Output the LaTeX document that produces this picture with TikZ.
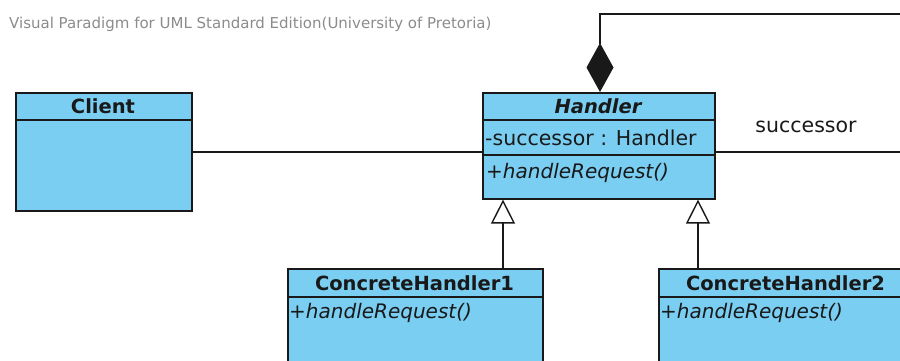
\documentclass[tikz,border=0pt]{standalone}
\usepackage{fontspec}
\setmainfont{DejaVu Sans}
\usetikzlibrary{arrows.meta}
\definecolor{umlblue}{RGB}{122,206,242}
\definecolor{umlline}{RGB}{25,25,25}
\definecolor{wmgray}{RGB}{140,140,140}
\tikzset{
  umlbox/.style={draw=umlline, fill=umlblue, line width=1.6pt, inner sep=0pt, anchor=north west},
  divider/.style={draw=umlline, line width=1.6pt},
  clsname/.style={font=\fontsize{19.5}{22}\selectfont\bfseries, text=umlline, inner sep=0pt},
  member/.style={font=\fontsize{20.5}{22}\selectfont, text=umlline, inner sep=0pt, anchor=west},
  conn/.style={draw=umlline, line width=1.4pt},
  gen/.style={conn, -{Triangle[open, length=24pt, width=24pt, line width=1.4pt, fill=white]}},
  comp/.style={conn, -{Diamond[length=49pt, width=27pt]}},
}
\begin{document}
\begin{tikzpicture}[x=1pt, y=-1pt]
\useasboundingbox (0,0) rectangle (900,360);
\clip (0,0) rectangle (900,360);
\fill[white] (0,0) rectangle (900,360);

% watermark
\node[anchor=west, inner sep=0pt, text=wmgray, font=\fontsize{15}{16}\selectfont] (wm) at (9,24) {Visual Paradigm for UML Standard Edition(University of Pretoria)};

% Client
\node[umlbox, minimum width=176pt, minimum height=118pt] (client) at (15,92) {};
\draw[divider] (15,120) -- (191,120);
\node[clsname] (clientname) at (103,106) {Client};

% Handler
\node[umlbox, minimum width=232pt, minimum height=106pt] (h) at (482,92) {};
\draw[divider] (482,120) -- (714,120);
\draw[divider] (482,155) -- (714,155);
\node[clsname, font=\fontsize{19.5}{22}\selectfont\bfseries\itshape] (hname) at (598,106) {Handler};
\node[member] (hattr) at (485,137.5) {-successor : Handler};
\node[member, font=\fontsize{20}{22}\selectfont\itshape] (hop) at (486,172.5) {+handleRequest()};

% ConcreteHandler1
\node[umlbox, minimum width=255pt, minimum height=120pt] (c1) at (287,268) {};
\draw[divider] (287,297) -- (542,297);
\node[clsname] (c1name) at (414.5,283) {ConcreteHandler1};
\node[member, font=\fontsize{20}{22}\selectfont\itshape] (c1op) at (289,313) {+handleRequest()};

% ConcreteHandler2
\node[umlbox, minimum width=255pt, minimum height=120pt] (c2) at (658,268) {};
\draw[divider] (658,297) -- (913,297);
\node[clsname] (c2name) at (785.5,283) {ConcreteHandler2};
\node[member, font=\fontsize{20}{22}\selectfont\itshape] (c2op) at (660,313) {+handleRequest()};

% connectors
\coordinate (yl) at (0,152);
\coordinate (g1) at (503,0);
\coordinate (g2) at (698,0);
\coordinate (topR) at (910,14);
\coordinate (rightEnd) at (910,152);
\coordinate (dtop) at (600,14);

\draw[conn] (client.east |- yl) -- (h.west |- yl);
\draw[conn] (h.east |- yl) -- (rightEnd);
\node[inner sep=0pt, font=\fontsize{20.5}{22}\selectfont, text=umlline] (succ) at (806,127) {successor};

\draw[gen] (c1.north -| g1) -- (h.south -| g1);
\draw[gen] (c2.north -| g2) -- (h.south -| g2);

\draw[comp] (topR) -- (dtop) -- (dtop |- h.north);
\end{tikzpicture}
\end{document}
